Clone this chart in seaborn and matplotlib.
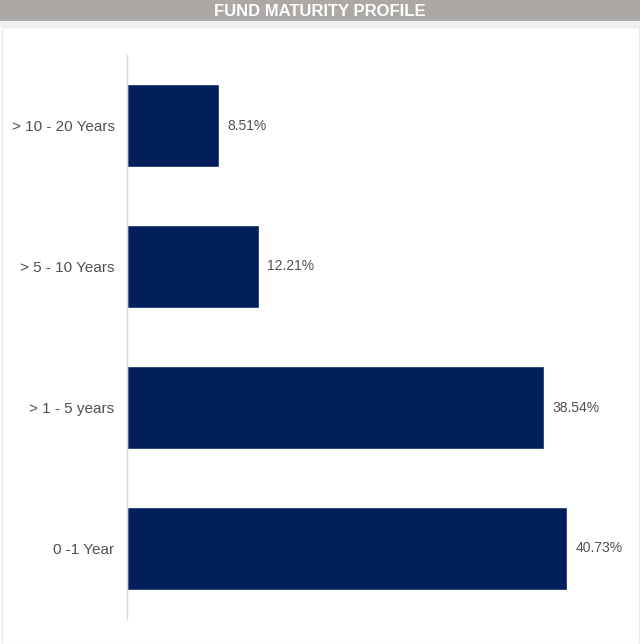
import matplotlib
matplotlib.use("Agg")
import matplotlib.pyplot as plt
from matplotlib.patches import Rectangle
import seaborn as sns
import pandas as pd

categories = ["> 10 - 20 Years", "> 5 - 10 Years", "> 1 - 5 years", "0 -1 Year"]
values = [8.51, 12.21, 38.54, 40.73]
value_labels = ["8.51%", "12.21%", "38.54%", "40.73%"]
title = "FUND MATURITY PROFILE"

sns.set_theme(style="white")
plt.rcParams["font.family"] = ["Liberation Sans", "DejaVu Sans"]

W, H = 640, 644
fig = plt.figure(figsize=(W / 100, H / 100), dpi=100)

# header band, thin strip below it, and the bordered white panel (behind the axes)
fig.patches.append(Rectangle((0, 1 - 21 / H), 1, 21 / H, transform=fig.transFigure,
                             facecolor="#aca8a5", edgecolor="none", zorder=-2))
fig.patches.append(Rectangle((0, 1 - 27 / H), 1, 6 / H, transform=fig.transFigure,
                             facecolor="#f0f0f0", edgecolor="none", zorder=-2))
fig.patches.append(Rectangle((1.5 / W, 0), (W - 3) / W, (H - 27) / H, transform=fig.transFigure,
                             facecolor="white", edgecolor="#ececec", linewidth=1, zorder=-2))
fig.text(0.5, 1 - 11 / H, title, ha="center", va="center", color="white",
         fontsize=12, fontweight="bold")

ax = fig.add_axes([127 / W, 25 / H, 493 / W, 564 / H])
df = pd.DataFrame({"category": categories, "value": values})
sns.barplot(data=df, x="value", y="category", orient="h", color="#001f5b",
            width=0.59, saturation=1, ax=ax)

for i, (v, lab) in enumerate(zip(values, value_labels)):
    ax.annotate(lab, xy=(v, i), xytext=(6, 0), textcoords="offset points",
                ha="left", va="center", fontsize=10, color="#505050")

ax.set_xlim(0, 45.6)
ax.set_ylim(3.5, -0.5)
ax.set_xlabel("")
ax.set_ylabel("")
ax.set_xticks([])
ax.tick_params(axis="y", length=0, pad=9, labelsize=11, labelcolor="#505050")
ax.set_facecolor("none")
for side in ["top", "right", "bottom"]:
    ax.spines[side].set_visible(False)
ax.spines["left"].set_color("#d9d9d9")
ax.spines["left"].set_linewidth(1)

fig.savefig("out.png", dpi=100)
